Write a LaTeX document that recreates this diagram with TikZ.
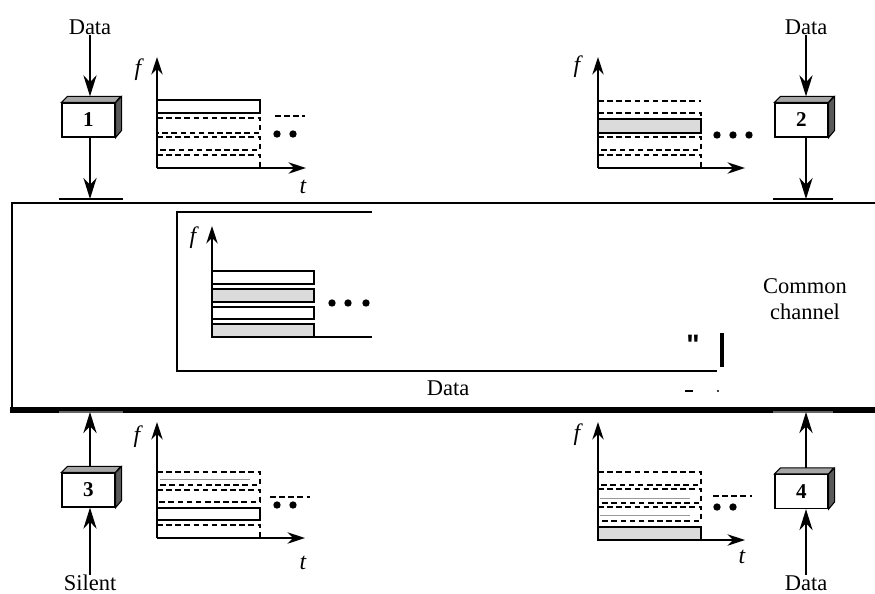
\documentclass[tikz,border=0pt]{standalone}
\usepackage{fontspec}
\setmainfont{Liberation Serif}
\newfontfamily\plainqfont{Liberation Sans}
\usetikzlibrary{arrows.meta}
\newcommand{\stationbox}[3]{%
  \node[stn] (#1) at (#2) {#3};
  \filldraw[topf] (#1.north west) -- ++(6,-6) -- ++(53,0) -- (#1.north east) -- cycle;
  \filldraw[sidef] (#1.north east) -- ++(6,-6) -- ++(0,34) -- (#1.south east) -- cycle;
}
\begin{document}
\begin{tikzpicture}[x=0.02cm,y=-0.02cm,
  lbl/.style={font=\fontsize{12.8}{14.7}\selectfont, inner sep=0pt},
  ital/.style={font=\fontsize{13.5}{15}\selectfont\itshape, inner sep=0pt},
  ax/.style={line width=0.9pt, -{Stealth[length=10pt,width=6.5pt]}},
  flow/.style={line width=1.1pt, -{Stealth[length=12pt,width=7.5pt]}},
  rct/.style={line width=0.9pt},
  dsh/.style={line width=1pt, dash pattern=on 3.2pt off 2pt},
  shd/.style={fill=black!14},
  stn/.style={draw, line width=0.7pt, fill=white, minimum width=1.06cm, minimum height=0.68cm, inner sep=0pt, font=\fontsize{12}{14}\selectfont\bfseries},
  topf/.style={draw, line width=0.6pt, fill=black!35},
  sidef/.style={draw, line width=0.6pt, fill=black!65},
  dotf/.style={fill=black},
  tap/.style={line width=0.7pt}
]
\useasboundingbox (0,0) rectangle (875,593);

% ---------- common channel ----------
\draw[line width=1.3pt] (11,203) -- (875,203);
\draw[line width=0.8pt] (12,203) -- (12,410);
\draw[line width=3.4pt] (10,410) -- (875,410);
\node[lbl, align=center] (cc) at (805,299) {Common\\channel};

% ---------- station 1 ----------
\node[lbl] (d1) at (90,27) {Data};
\stationbox{b1}{88.5,120}{1}
\path (b1.north) ++(0,-6) coordinate (b1t);
\coordinate (c1) at (90,199);
\draw[tap] (59,199) -- (123,199);
\draw[flow] (d1.south) -- (d1.south |- b1t);
\draw[flow] (d1.south |- b1.south) -- (c1);

% chart 1
\draw[ax] (157,168) -- (157,57);
\draw[ax] (157,168) -- (306,168);
\node[ital] (f1) at (138,70) {f};
\node[ital] (t1) at (303,187) {t};
\draw[rct] (157,100) rectangle (260,113);
\draw[dsh] (157,118) -- (260,118) -- (260,133) -- (157,133);
\draw[dsh] (157,137) -- (260,137) -- (260,150) -- (157,150);
\draw[dsh] (157,155) -- (260,155) -- (260,168);
\draw[dsh] (157,118) -- (157,168);
\fill[dotf] (277,134) circle[radius=2.1pt] (293,134) circle[radius=2.1pt];
\draw[dsh] (275,116) -- (305,116);

% ---------- station 2 ----------
\node[lbl] (d2) at (806,27) {Data};
\stationbox{b2}{801.5,120}{2}
\path (b2.north) ++(0,-6) coordinate (b2t);
\coordinate (c2) at (806,199);
\draw[tap] (773,199) -- (833,199);
\draw[flow] (d2.south) -- (d2.south |- b2t);
\draw[flow] (d2.south |- b2.south) -- (c2);

% chart 2
\draw[ax] (598,168) -- (598,57);
\draw[ax] (598,168) -- (745,168);
\node[ital] (f2) at (577,67) {f};
\draw[dsh] (598,101) -- (701,101);
\draw[dsh] (598,113) -- (701,113) -- (701,119);
\draw[rct, shd] (598,119) rectangle (701,133);
\draw[dsh] (598,137) -- (701,137) -- (701,150) -- (598,150);
\draw[dsh] (598,155) -- (701,155) -- (701,168);
\draw[dsh] (598,101) -- (598,168);
\fill[dotf] (717,135) circle[radius=2.1pt] (733,135) circle[radius=2.1pt] (749,135) circle[radius=2.1pt];

% ---------- inner chart ----------
\draw[line width=0.7pt] (372,212) -- (177,212) -- (177,371) -- (717,371);
\draw[ax] (212,337) -- (212,226);
\draw[line width=0.9pt] (212,337) -- (372,337);
\node[ital] (f5) at (193,238) {f};
\draw[rct] (212,271) rectangle (314,284);
\draw[rct, shd] (212,289) rectangle (314,302);
\draw[rct] (212,307) rectangle (314,319);
\draw[rct, shd] (212,324) rectangle (314,337);
\fill[dotf] (332,303) circle[radius=2.1pt] (348,303) circle[radius=2.1pt] (366,303) circle[radius=2.1pt];
\node[lbl] (dd) at (448,388) {Data};
\node[inner sep=0pt, font=\plainqfont\fontsize{16}{16}\selectfont\bfseries] (qq) at (693,345) {"};
\draw[line width=1.8pt] (722,333) -- (722,367);
\draw[line width=0.7pt] (685,391) -- (693,391);
\fill (718,391) circle[radius=0.6pt];

% ---------- station 3 ----------
\node[lbl] (s3) at (90,583) {Silent};
\stationbox{b3}{88.5,490}{3}
\path (b3.north) ++(0,-6) coordinate (b3t);
\coordinate (c3) at (90,412);
\draw[tap, black!60] (59,412) -- (123,412);
\draw[flow] (s3.north) -- (s3.north |- b3.south);
\draw[flow] (s3.north |- b3t) -- (c3);

% chart 3
\draw[ax] (157,538) -- (157,422);
\draw[ax] (157,538) -- (305,538);
\node[ital] (f3) at (137,437) {f};
\node[ital] (t3) at (303,563) {t};
\draw[dsh] (157,472) -- (260,472) -- (260,485) -- (157,485);
\draw[line width=0.5pt, black!40] (160,479) -- (250,479);
\draw[dsh] (157,490) -- (260,490) -- (260,502) -- (157,502);
\draw[rct] (157,508) rectangle (260,520);
\draw[dsh] (157,525) -- (260,525) -- (260,538);
\draw[dsh] (157,472) -- (157,538);
\fill[dotf] (277,505) circle[radius=2.1pt] (293,505) circle[radius=2.1pt];
\draw[dsh] (270,497) -- (310,497);

% ---------- station 4 ----------
\node[lbl] (d4) at (806,583) {Data};
\stationbox{b4}{801.5,491.5}{4}
\path (b4.north) ++(0,-6) coordinate (b4t);
\coordinate (c4) at (806,412);
\draw[tap, black!60] (773,412) -- (833,412);
\draw[flow] (d4.north) -- (d4.north |- b4.south);
\draw[flow] (d4.north |- b4t) -- (c4);

% chart 4
\draw[ax] (598,540) -- (598,422);
\draw[ax] (598,540) -- (745,540);
\node[ital] (f4) at (577,435) {f};
\node[ital] (t4) at (742,557) {t};
\draw[dsh] (598,472) -- (701,472) -- (701,485) -- (598,485);
\draw[dsh] (598,489) -- (701,489) -- (701,503) -- (598,503);
\draw[line width=0.5pt, black!40] (600,498) -- (690,498);
\draw[dsh] (598,507) -- (701,507) -- (701,521) -- (598,521);
\draw[line width=0.5pt, black!40] (600,515) -- (690,515);
\draw[dsh] (598,472) -- (598,527);
\draw[rct, shd] (598,527) rectangle (701,540);
\fill[dotf] (717,507) circle[radius=2.1pt] (733,507) circle[radius=2.1pt];
\draw[dsh] (713,496) -- (752,496);
\end{tikzpicture}
\end{document}
